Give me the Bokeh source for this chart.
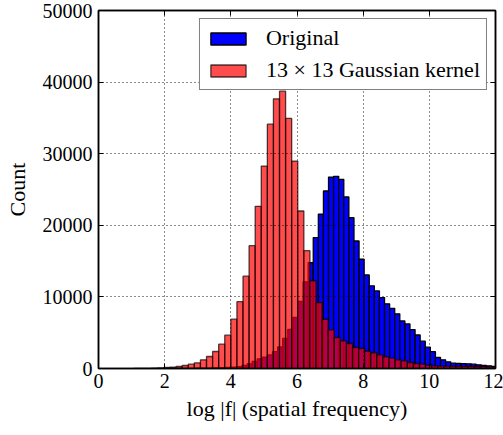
from bokeh.plotting import figure
from bokeh.models import (Range1d, LinearAxis, FixedTicker, Legend, LegendItem,
                          BasicTickFormatter, ColumnDataSource)
from bokeh.embed import file_html
from bokeh.resources import INLINE
import numpy as np

# ---- data -------------------------------------------------------------
series_names = ["Original", "13 \u00d7 13 Gaussian kernel"]

# histogram bin specification (first edge, bin width) + counts
blue_first_edge = 2.028
blue_bin_width = 0.1539
blue_counts = [
    5, 8, 10, 15, 20, 30, 40, 50, 60, 80, 100, 130, 160,
    200, 250, 450, 650, 1000, 1350, 1600, 1900, 2350, 3000, 4200, 5450,
    7150, 9380, 12100, 14790, 18280, 21540, 24790, 26740, 26840, 26420,
    23950, 21070, 17810, 15260, 13070, 11540, 10840, 9910, 9030, 8400,
    7630, 6650, 6230, 5440, 4680, 3810, 2980, 2350, 1535, 1209, 930,
    744, 700, 680, 650, 600, 520, 450, 380, 300,
]

red_first_edge = 1.058
red_bin_width = 0.1839
red_counts = [
    5, 10, 25, 50, 90, 140, 186, 279, 419, 605, 791, 1209, 1674, 2372,
    3395, 4651,
    6890, 9330, 12890, 17150, 22650, 28270, 34130, 37660, 38730, 34920,
    28970, 22000, 16450,
    12230, 9210, 6880, 5400, 4330, 3860, 3490, 2930, 2790, 2420,
    2200, 1910, 1630, 1450, 1210, 1070, 840, 700, 610, 470, 380,
    340, 320, 300, 310, 300, 290, 280, 260, 240, 210,
]

x_ticks = [0, 2, 4, 6, 8, 10, 12]
y_ticks = [0, 10000, 20000, 30000, 40000, 50000]
x_label = "log |f| (spatial frequency)"
y_label = "Count"


def hist_source(first_edge, width, counts):
    n = len(counts)
    left = first_edge + width * np.arange(n)
    return ColumnDataSource(dict(left=left, right=left + width,
                                 top=np.array(counts, dtype=float),
                                 bottom=np.zeros(n)))


FONT = "Liberation Serif"

p = figure(width=503, height=435, x_range=Range1d(0, 12), y_range=Range1d(0, 50000),
           output_backend="svg", toolbar_location=None,
           min_border_left=98, min_border_right=8, min_border_top=10,
           min_border_bottom=67)

p.background_fill_color = "white"
p.border_fill_color = "white"
p.outline_line_color = "black"
p.outline_line_width = 1.5

blue = p.quad(left="left", right="right", top="top", bottom="bottom",
              source=hist_source(blue_first_edge, blue_bin_width, blue_counts),
              fill_color="#0000ff", line_color="black", line_width=1.3)
red = p.quad(left="left", right="right", top="top", bottom="bottom",
             source=hist_source(red_first_edge, red_bin_width, red_counts),
             fill_color="#ff0000", fill_alpha=0.7, line_color="black",
             line_alpha=0.7, line_width=1.3)

# axes
for ax in (p.xaxis[0], p.yaxis[0]):
    ax.major_tick_in = 5
    ax.major_tick_out = 0
    ax.minor_tick_line_color = None
    ax.axis_line_color = "black"
    ax.axis_line_width = 1.5
    ax.major_tick_line_color = "black"
    ax.major_label_text_font = FONT
    ax.major_label_text_font_size = "20px"
    ax.major_label_text_color = "black"
    ax.axis_label_text_font = FONT
    ax.axis_label_text_font_size = "22px"
    ax.axis_label_text_font_style = "normal"
    ax.axis_label_text_color = "black"

p.xaxis[0].ticker = FixedTicker(ticks=x_ticks)
p.yaxis[0].ticker = FixedTicker(ticks=y_ticks)
p.yaxis[0].formatter = BasicTickFormatter(use_scientific=False)
p.xaxis[0].axis_label = x_label
p.yaxis[0].axis_label = y_label
p.xaxis[0].major_label_standoff = 5
p.yaxis[0].major_label_standoff = 6
p.xaxis[0].axis_label_standoff = 5
p.yaxis[0].axis_label_standoff = 10

# mirrored ticks on top/right (no labels)
def tick_only_axis(ticks):
    return LinearAxis(ticker=FixedTicker(ticks=ticks), major_tick_in=5, major_tick_out=0,
                      minor_tick_line_color=None,
                      major_label_overrides={t: "" for t in ticks},
                      major_label_text_color=None, major_label_text_font_size="1px",
                      major_label_standoff=0, axis_line_color="black", axis_line_width=1.5)

p.add_layout(tick_only_axis(x_ticks), "above")
p.add_layout(tick_only_axis(y_ticks), "right")

# grid: dotted, drawn above bars
p.xgrid.ticker = FixedTicker(ticks=x_ticks)
p.ygrid.ticker = FixedTicker(ticks=y_ticks)
for g in (p.xgrid[0], p.ygrid[0]):
    g.grid_line_color = "black"
    g.grid_line_dash = "1 3"
    g.grid_line_width = 1
    g.grid_line_alpha = 0.9
    g.level = "guide"

legend = Legend(items=[LegendItem(label=series_names[0], renderers=[blue]),
                       LegendItem(label=series_names[1], renderers=[red])],
                location="top_right", margin=8)
legend.glyph_width = 44
legend.glyph_height = 15
legend.label_height = 15
legend.spacing = 6
legend.padding = 6
legend.label_standoff = 16
legend.label_text_font = FONT
legend.label_text_font_size = "22px"
legend.label_text_color = "black"
legend.border_line_color = "black"
legend.border_line_width = 1.3
legend.background_fill_alpha = 1.0
p.add_layout(legend)

open("out.html", "w").write(file_html(p, INLINE))
